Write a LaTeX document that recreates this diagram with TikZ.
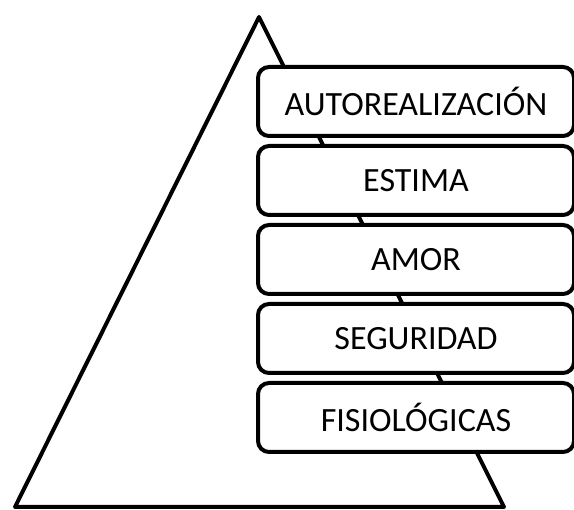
\documentclass[tikz,border=0pt]{standalone}
\usepackage{fontspec}
\setmainfont{Carlito}
\usepackage{tikz}
\tikzstyle{level} = [rectangle, rounded corners=11pt, minimum width=316pt, minimum height=69pt, text centered, draw=black, line width=4pt, fill=white, font=\fontsize{34}{40}\selectfont]
\tikzstyle{pyramid} = [draw=black, line width=4pt, line join=round]

\begin{document}
\begin{tikzpicture}[x=1pt, y=-1pt, node distance=79pt]
\useasboundingbox (0,0) rectangle (574,510);

\coordinate (top) at (259,17);
\coordinate (left) at (15,507);
\coordinate (right) at (504,507);
\draw [pyramid] (top) -- (left) -- (right) -- cycle;

\node (auto) [level] at (416,101.5) {AUTOREALIZACIÓN};
\node (estima) [level, below of=auto] {ESTIMA};
\node (amor) [level, below of=estima] {AMOR};
\node (seg) [level, below of=amor] {SEGURIDAD};
\node (fisio) [level, below of=seg] {FISIOLÓGICAS};

\end{tikzpicture}
\end{document}
